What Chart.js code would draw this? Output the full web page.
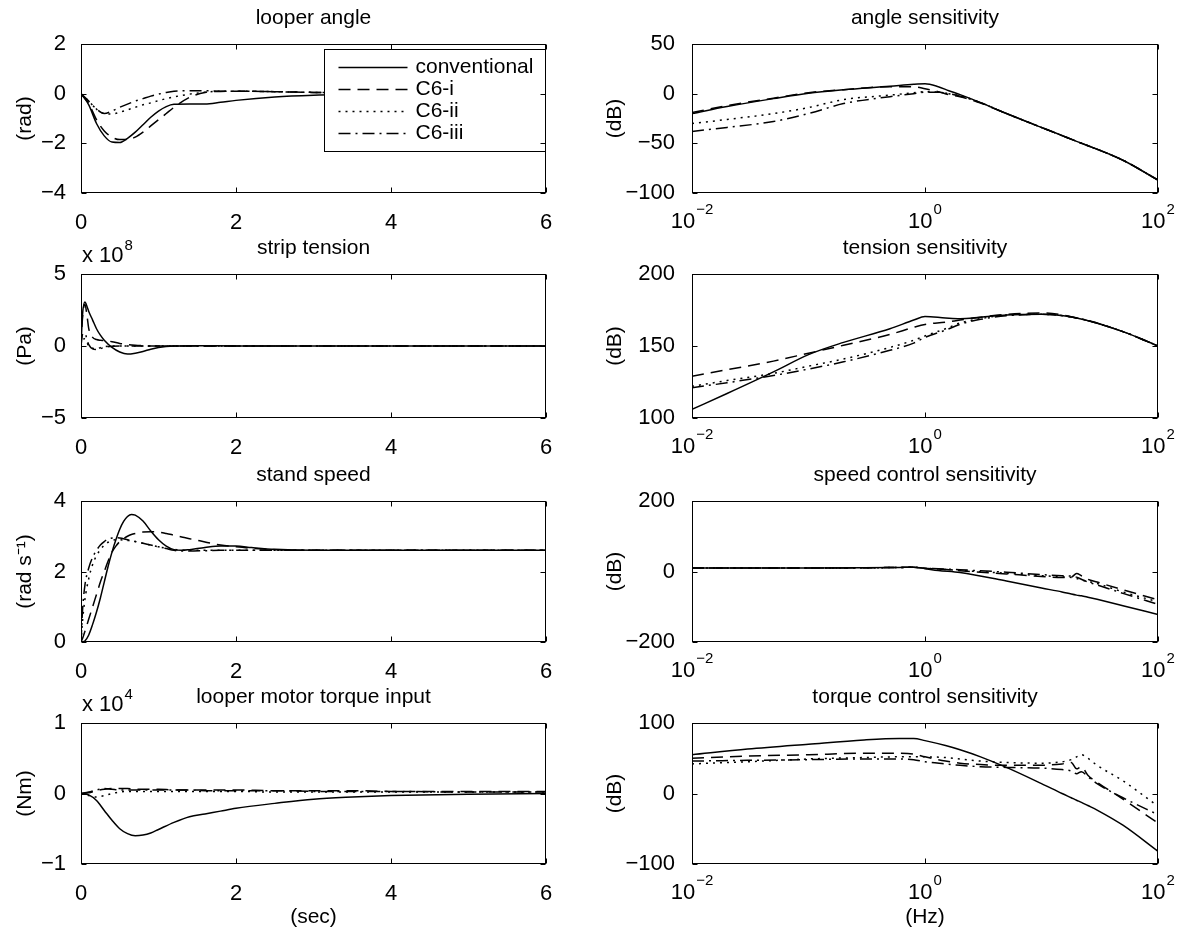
<!DOCTYPE html>
<html>
<head>
<meta charset="utf-8">
<title>looper responses</title>
<script src="https://cdn.jsdelivr.net/npm/chart.js@4.4.1/dist/chart.umd.min.js"></script>
<style>
  body { margin: 0; background: #fff; }
  #page { position: relative; width: 1187px; height: 934px; overflow: hidden; background: #fff; }
  canvas { position: absolute; }
</style>
</head>
<body>
<div id="page"></div>
<script>
'use strict';
// series names, same four in every panel
let seriesNames = ['conventional', 'C6-i', 'C6-ii', 'C6-iii'];

// --- time responses (sec) ---
let tAngle = [0, 0.1, 0.2, 0.3, 0.4, 0.5, 0.6, 0.7, 0.8, 0.9, 1.0, 1.1, 1.2, 1.4, 1.6, 1.8, 2.0, 2.5, 3.0, 3.5, 4, 5, 6];
let angleConv = [0, -0.45, -1.2, -1.7, -1.95, -1.97, -1.8, -1.55, -1.25, -0.95, -0.7, -0.52, -0.43, -0.42, -0.42, -0.35, -0.27, -0.13, -0.06, -0.03, -0.01, 0, 0];
let angleC6i = [0, -0.4, -1.05, -1.5, -1.75, -1.85, -1.85, -1.75, -1.55, -1.3, -1.05, -0.8, -0.55, -0.15, 0.05, 0.09, 0.1, 0.08, 0.05, 0.03, 0.02, 0.01, 0];
let angleC6ii = [0, -0.3, -0.62, -0.8, -0.82, -0.75, -0.65, -0.55, -0.45, -0.37, -0.28, -0.2, -0.13, -0.02, 0.06, 0.1, 0.1, 0.08, 0.05, 0.03, 0.02, 0.01, 0];
let angleC6iii = [0, -0.3, -0.62, -0.8, -0.7, -0.55, -0.42, -0.3, -0.2, -0.1, -0.02, 0.05, 0.1, 0.12, 0.12, 0.1, 0.1, 0.08, 0.05, 0.03, 0.02, 0.01, 0];

let tTension = [0, 0.02, 0.05, 0.08, 0.1, 0.15, 0.2, 0.25, 0.3, 0.4, 0.5, 0.6, 0.7, 0.8, 0.9, 1.0, 1.2, 1.5, 2, 3, 4, 5, 6];
let tensionConv = [0, 2.2, 3.05, 2.7, 2.4, 1.8, 1.2, 0.75, 0.4, -0.1, -0.42, -0.56, -0.5, -0.38, -0.22, -0.1, 0, 0.02, 0, 0, 0, 0, 0];
let tensionC6i = [0, 2.0, 2.9, 2.0, 1.2, 0.6, 0.45, 0.4, 0.38, 0.3, 0.18, 0.1, 0.05, 0.02, 0, 0, 0, 0, 0, 0, 0, 0, 0];
let tensionC6ii = [0, 0.4, 0.5, 0.2, 0, -0.15, -0.18, -0.12, -0.05, 0, 0, 0, 0, 0, 0, 0, 0, 0, 0, 0, 0, 0, 0];
let tensionC6iii = [0, 0.8, 0.9, 0.4, 0.1, -0.2, -0.25, -0.18, -0.1, -0.02, 0, 0, 0, 0, 0, 0, 0, 0, 0, 0, 0, 0, 0];

let tSpeed = [0, 0.02, 0.05, 0.1, 0.15, 0.2, 0.25, 0.3, 0.35, 0.4, 0.45, 0.5, 0.55, 0.6, 0.65, 0.7, 0.8, 0.9, 1.0, 1.1, 1.2, 1.3, 1.4, 1.6, 1.8, 2.0, 2.2, 2.5, 3, 4, 5, 6];
let speedConv = [0, 0.005, 0.03, 0.2, 0.5, 0.85, 1.25, 1.7, 2.15, 2.55, 2.9, 3.2, 3.42, 3.56, 3.62, 3.6, 3.43, 3.15, 2.9, 2.72, 2.62, 2.6, 2.62, 2.68, 2.72, 2.72, 2.68, 2.63, 2.6, 2.6, 2.6, 2.6];
let speedC6i = [0, 0.1, 0.3, 0.65, 1.0, 1.35, 1.7, 2.0, 2.3, 2.55, 2.72, 2.85, 2.93, 3.0, 3.05, 3.08, 3.12, 3.13, 3.12, 3.08, 3.03, 2.98, 2.93, 2.84, 2.75, 2.7, 2.66, 2.62, 2.6, 2.6, 2.6, 2.6];
let speedC6ii = [0, 0.6, 1.2, 1.8, 2.2, 2.45, 2.62, 2.75, 2.83, 2.88, 2.9, 2.9, 2.89, 2.88, 2.87, 2.85, 2.8, 2.75, 2.7, 2.66, 2.63, 2.6, 2.6, 2.6, 2.6, 2.6, 2.6, 2.6, 2.6, 2.6, 2.6, 2.6];
let speedC6iii = [0, 0.9, 1.6, 2.1, 2.4, 2.6, 2.75, 2.85, 2.92, 2.95, 2.96, 2.95, 2.93, 2.9, 2.88, 2.85, 2.8, 2.75, 2.7, 2.65, 2.6, 2.58, 2.58, 2.59, 2.6, 2.6, 2.6, 2.6, 2.6, 2.6, 2.6, 2.6];

let tTorque = [0, 0.1, 0.2, 0.3, 0.4, 0.5, 0.6, 0.7, 0.8, 0.9, 1.0, 1.2, 1.4, 1.6, 1.8, 2.0, 2.5, 3, 3.5, 4, 5, 6];
let torqueConv = [0, -0.02, -0.1, -0.24, -0.38, -0.5, -0.57, -0.6, -0.59, -0.56, -0.51, -0.41, -0.33, -0.29, -0.25, -0.21, -0.14, -0.08, -0.05, -0.03, -0.01, 0];
let torqueC6i = [0, 0.01, 0.04, 0.06, 0.07, 0.07, 0.07, 0.06, 0.06, 0.06, 0.06, 0.05, 0.05, 0.05, 0.05, 0.05, 0.04, 0.04, 0.04, 0.03, 0.03, 0.03];
let torqueC6ii = [0, -0.03, -0.05, -0.03, 0, 0.02, 0.03, 0.03, 0.03, 0.03, 0.03, 0.03, 0.03, 0.03, 0.03, 0.03, 0.02, 0.02, 0.02, 0.02, 0.02, 0.02];
let torqueC6iii = [0, 0.02, 0.05, 0.07, 0.06, 0.05, 0.05, 0.05, 0.05, 0.05, 0.05, 0.05, 0.05, 0.04, 0.04, 0.04, 0.04, 0.03, 0.03, 0.03, 0.02, 0.02];

// --- sensitivities (Hz, dB) ---
let fAngle = [0.01, 0.02, 0.05, 0.1, 0.2, 0.5, 0.8, 1, 1.3, 1.6, 2, 3, 5, 10, 20, 50, 100];
let angleSensConv = [-20, -13, -5, 0.5, 4, 7.5, 9.5, 10, 7, 3, -1, -9, -20, -34, -48, -67, -87];
let angleSensC6i = [-19, -12, -4.5, 1, 4, 7, 7, 5, 2, -1, -3, -9.5, -20, -34, -48, -67, -87];
let angleSensC6ii = [-30, -26, -20, -14, -6, -1.5, 1, 2, 1.5, 0, -2, -9, -20, -34, -48, -67, -87];
let angleSensC6iii = [-38, -34, -28, -20, -10, -3, 0, 1.5, 1.5, 0, -2.5, -9, -20, -34, -48, -67, -87];

let fTension = [0.01, 0.02, 0.05, 0.1, 0.2, 0.5, 0.8, 1, 1.5, 2, 3, 5, 10, 20, 50, 100];
let tensionSensConv = [106, 117, 132, 144, 152.5, 162, 168, 170.5, 169.5, 169, 170, 171.5, 172, 169.5, 160, 150];
let tensionSensC6i = [129, 133.5, 139.5, 145, 150.5, 158, 163, 165, 166.5, 168, 170, 172, 173, 169.5, 160, 150];
let tensionSensC6ii = [122, 126, 131, 136, 141, 149, 154, 157, 162, 166, 169, 171.5, 172, 169.5, 160, 150];
let tensionSensC6iii = [121, 124.5, 129.5, 134, 139, 147, 152, 156, 161, 165, 168.5, 171, 172, 169.5, 160, 150];

let fSpeed = [0.01, 0.1, 0.3, 0.6, 0.8, 1, 1.3, 2, 5, 10, 15, 18, 20, 22, 25, 30, 50, 100];
let speedSensConv = [10, 10, 10.5, 11.5, 12, 8, 3, -3, -27, -47, -58, -64, -67, -69, -73, -79, -97, -122];
let speedSensC6i = [10, 10, 10.5, 11.5, 12, 9, 7, 2, -7, -14, -17, -16, -6, -12, -22, -30, -52, -80];
let speedSensC6ii = [10, 10, 10.5, 11.5, 12, 9, 7, 3, -5, -12, -15, -17, -20, -24, -28, -34, -58, -86];
let speedSensC6iii = [10, 10, 10.5, 11.5, 12, 9, 8, 5, -2, -9, -12, -13, -16, -22, -30, -38, -62, -93];

let fTorque = [0.01, 0.03, 0.1, 0.3, 0.6, 0.8, 1, 1.5, 2, 3, 5, 10, 15, 18, 20, 22, 25, 30, 50, 100];
let torqueSensConv = [55, 63, 70, 76, 78, 78, 75, 68, 62, 52, 37, 14, 0, -6, -9.5, -12.5, -17, -23.5, -45, -82];
let torqueSensC6i = [50, 53, 55, 57, 57, 56, 52, 46, 43, 41, 40, 40, 42, 44, 35, 38, 26, 16, -8, -42];
let torqueSensC6ii = [42, 45, 49, 51, 52, 52, 52, 51, 49, 46, 44, 43, 45, 48, 52, 55, 50, 40, 18, -18];
let torqueSensC6iii = [46, 47, 48, 49, 49, 48, 45, 42, 40, 38, 37, 36, 34, 32, 28, 31, 24, 14, -6, -30];

// tick labels
let timeTicks = [0, 2, 4, 6];
let freqTicks = [0.01, 1, 100];
let angleTicks = [-4, -2, 0, 2];
let tensionTicks = [-5, 0, 5];
let speedTicks = [0, 2, 4];
let torqueTicks = [-1, 0, 1];
let angleSensTicks = [-100, -50, 0, 50];
let tensionSensTicks = [100, 150, 200];
let speedSensTicks = [-200, 0, 200];
let torqueSensTicks = [-100, 0, 100];

let dashStyles = [[], [12, 7], [2, 5], [12, 5, 2, 5]];
let fontFamily = "'Liberation Sans', Arial, Helvetica, sans-serif";
Chart.defaults.font.family = fontFamily;
Chart.defaults.color = '#000';

// plot-box geometry in page pixels
let cols = [
  {left: 0, width: 590, plotLeft: 81, plotRight: 546},
  {left: 590, width: 597, plotLeft: 692, plotRight: 1158}
];
let rows = [
  {top: 44, bottom: 193},
  {top: 274, bottom: 418},
  {top: 501, bottom: 642},
  {top: 723, bottom: 864}
];

let panels = [
  {col: 0, row: 0, title: 'looper angle', yLabel: '(rad)', xs: tAngle, ys: [angleConv, angleC6i, angleC6ii, angleC6iii], yTicks: angleTicks, legend: true},
  {col: 1, row: 0, title: 'angle sensitivity', yLabel: '(dB)', log: true, xs: fAngle, ys: [angleSensConv, angleSensC6i, angleSensC6ii, angleSensC6iii], yTicks: angleSensTicks},
  {col: 0, row: 1, title: 'strip tension', yLabel: '(Pa)', power: '8', xs: tTension, ys: [tensionConv, tensionC6i, tensionC6ii, tensionC6iii], yTicks: tensionTicks},
  {col: 1, row: 1, title: 'tension sensitivity', yLabel: '(dB)', log: true, xs: fTension, ys: [tensionSensConv, tensionSensC6i, tensionSensC6ii, tensionSensC6iii], yTicks: tensionSensTicks},
  {col: 0, row: 2, title: 'stand speed', yLabel: '(rad s\u207B\u00B9)', xs: tSpeed, ys: [speedConv, speedC6i, speedC6ii, speedC6iii], yTicks: speedTicks},
  {col: 1, row: 2, title: 'speed control sensitivity', yLabel: '(dB)', log: true, xs: fSpeed, ys: [speedSensConv, speedSensC6i, speedSensC6ii, speedSensC6iii], yTicks: speedSensTicks},
  {col: 0, row: 3, title: 'looper motor torque input', yLabel: '(Nm)', power: '4', xs: tTorque, ys: [torqueConv, torqueC6i, torqueC6ii, torqueC6iii], yTicks: torqueTicks},
  {col: 1, row: 3, title: 'torque control sensitivity', yLabel: '(dB)', log: true, xs: fTorque, ys: [torqueSensConv, torqueSensC6i, torqueSensC6ii, torqueSensC6iii], yTicks: torqueSensTicks}
];

function fmt(v) {
  return String(v).replace('-', '\u2212');
}

// box, inward ticks, 10^n labels, "x 10^n" notes and the boxed legend
let decor = {
  id: 'decor',
  afterDatasetsDraw(chart, args, opts) {
    let ctx = chart.ctx;
    let a = chart.chartArea;
    let xs = chart.scales.x, ys = chart.scales.y;
    let L = Math.round(a.left) + 0.5, R = Math.round(a.right) - 0.5;
    let T = Math.round(a.top) + 0.5, B = Math.round(a.bottom) - 0.5;
    ctx.save();
    ctx.strokeStyle = '#000';
    ctx.fillStyle = '#000';
    ctx.lineWidth = 1;

    if (opts.legend) {
      let bw = 221, bh = 102;
      let bx = Math.round(a.right) - bw - 0.5, by = T + 5;
      ctx.fillStyle = '#fff';
      ctx.fillRect(bx, by, bw, bh);
      ctx.strokeRect(bx, by, bw, bh);
      ctx.save();
      ctx.beginPath();
      ctx.rect(bx, by, bw - 2, bh);
      ctx.clip();
      ctx.fillStyle = '#000';
      ctx.font = '21px ' + fontFamily;
      ctx.textBaseline = 'middle';
      ctx.textAlign = 'left';
      chart.data.datasets.forEach((ds, i) => {
        let ly = Math.round(by + 17 + i * 22.3) + 0.5;
        ctx.setLineDash(ds.borderDash);
        ctx.lineWidth = ds.borderWidth;
        ctx.beginPath();
        ctx.moveTo(bx + 14, ly);
        ctx.lineTo(bx + 83, ly);
        ctx.stroke();
        ctx.setLineDash([]);
        ctx.fillText(ds.label, bx + 91, ly);
      });
      ctx.restore();
    }

    ctx.setLineDash([]);
    ctx.lineWidth = 1;
    ctx.beginPath();
    xs.ticks.forEach(t => {
      let px = Math.round(xs.getPixelForValue(t.value)) + 0.5;
      ctx.moveTo(px, B); ctx.lineTo(px, B - 5);
      ctx.moveTo(px, T); ctx.lineTo(px, T + 5);
    });
    ys.ticks.forEach(t => {
      let py = Math.round(ys.getPixelForValue(t.value)) + 0.5;
      ctx.moveTo(L, py); ctx.lineTo(L + 5, py);
      ctx.moveTo(R, py); ctx.lineTo(R - 5, py);
    });
    ctx.stroke();
    ctx.strokeRect(L, T, R - L, B - T);

    ctx.textAlign = 'left';
    ctx.textBaseline = 'alphabetic';
    if (opts.logX) {
      xs.ticks.forEach(t => {
        let px = xs.getPixelForValue(t.value);
        let e = Math.round(Math.log10(t.value));
        let es = e < 0 ? '\u2212' + (-e) : String(e);
        ctx.font = '22px ' + fontFamily;
        let w1 = ctx.measureText('10').width;
        ctx.font = '15px ' + fontFamily;
        let w2 = ctx.measureText(es).width;
        let x0 = px - (w1 + w2 + 1) / 2;
        ctx.font = '22px ' + fontFamily;
        ctx.fillText('10', x0, a.bottom + 35);
        ctx.font = '15px ' + fontFamily;
        ctx.fillText(es, x0 + w1 + 1, a.bottom + 21);
      });
    }
    if (opts.power) {
      ctx.font = '22px ' + fontFamily;
      ctx.fillText('x 10', a.left + 1, a.top - 12);
      let w = ctx.measureText('x 10').width;
      ctx.font = '15px ' + fontFamily;
      ctx.fillText(opts.power, a.left + 2 + w, a.top - 24);
    }
    ctx.restore();
  }
};

function makeChart(p) {
  let c = cols[p.col], r = rows[p.row];
  let last = p.row === rows.length - 1;
  let cTop = r.top - 44;
  let cHeight = (last ? 934 : r.bottom + 50) - cTop;
  let canvas = document.createElement('canvas');
  canvas.width = c.width;
  canvas.height = cHeight;
  canvas.style.left = c.left + 'px';
  canvas.style.top = cTop + 'px';
  document.getElementById('page').appendChild(canvas);

  let yWidth = c.plotLeft - c.left;
  let xHeight = cHeight - (r.bottom - cTop);
  let xTickVals = p.log ? freqTicks : timeTicks;

  let datasets = p.ys.map((vals, i) => ({
    label: seriesNames[i],
    data: p.xs.map((x, k) => ({x: x, y: vals[k]})),
    borderColor: '#000',
    borderWidth: 1.5,
    borderDash: dashStyles[i],
    pointRadius: 0,
    fill: false,
    cubicInterpolationMode: 'monotone'
  }));

  new Chart(canvas, {
    type: 'line',
    data: {datasets: datasets},
    options: {
      responsive: false,
      animation: false,
      devicePixelRatio: 1,
      layout: {padding: {left: 0, top: 0, bottom: 0, right: c.left + c.width - c.plotRight}},
      plugins: {
        legend: {display: false},
        tooltip: {enabled: false},
        title: {
          display: true, text: p.title, fullSize: false, color: '#000',
          font: {size: 21, weight: 'normal', lineHeight: 1.2},
          padding: {top: 5.4, bottom: 13.4}
        },
        decor: {legend: !!p.legend, power: p.power, logX: !!p.log}
      },
      scales: {
        x: {
          type: p.log ? 'logarithmic' : 'linear',
          min: xTickVals[0],
          max: xTickVals[xTickVals.length - 1],
          afterBuildTicks: s => { s.ticks = xTickVals.map(v => ({value: v})); },
          afterFit: s => { s.height = xHeight; },
          grid: {display: false},
          border: {display: false},
          ticks: {
            autoSkip: false, maxRotation: 0, padding: 9,
            font: {size: 22, lineHeight: 1.2},
            callback: v => p.log ? '' : fmt(v)
          },
          title: {
            display: last, text: p.log ? '(Hz)' : '(sec)',
            font: {size: 21, lineHeight: 1.2},
            padding: {top: 0, bottom: 4.4}
          }
        },
        y: {
          min: p.yTicks[0],
          max: p.yTicks[p.yTicks.length - 1],
          afterBuildTicks: s => { s.ticks = p.yTicks.map(v => ({value: v})); },
          afterFit: s => { s.width = yWidth; },
          grid: {display: false},
          border: {display: false},
          ticks: {padding: p.col ? 9 : 7, font: {size: 22, lineHeight: 1.2}, callback: v => fmt(v)},
          title: {
            display: true, text: p.yLabel,
            font: {size: 21, lineHeight: 1.2},
            padding: {top: 12.4, bottom: 0}
          }
        }
      }
    },
    plugins: [decor]
  });
}

panels.forEach(makeChart);
</script>
</body>
</html>
